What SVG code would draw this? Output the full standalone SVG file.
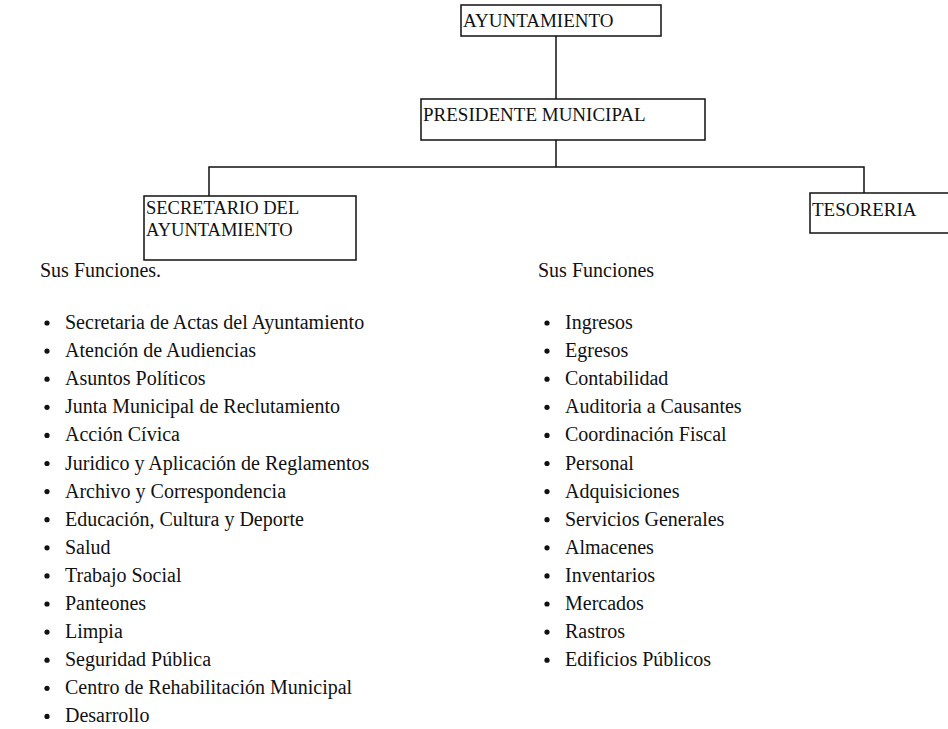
<svg xmlns="http://www.w3.org/2000/svg" width="948" height="729" viewBox="0 0 948 729">
<style>
.box{fill:#fff;stroke:#111;stroke-width:1.5}
.conn{fill:none;stroke:#111;stroke-width:1.5}
.bt{font-family:"Liberation Serif","Times New Roman",serif;font-size:19px;fill:#111}
.lt{font-family:"Liberation Serif","Times New Roman",serif;font-size:20px;fill:#111}
.bul{fill:#111}
</style>
<rect width="948" height="729" fill="#fff"/>
<g id="connectors">
<line class="conn" x1="556" y1="36" x2="556" y2="99"/>
<line class="conn" x1="556" y1="140" x2="556" y2="167"/>
<polyline class="conn" points="209,196 209,167 864,167 864,193"/>
</g>
<g id="ayuntamiento">
<rect class="box" x="461" y="5" width="200" height="31"/>
<text class="bt" x="463" y="27">AYUNTAMIENTO</text>
</g>
<g id="presidente">
<rect class="box" x="421" y="99" width="284" height="41"/>
<text class="bt" x="423" y="121">PRESIDENTE MUNICIPAL</text>
</g>
<g id="secretario">
<rect class="box" x="144" y="196" width="212" height="64"/>
<text class="bt" x="146" y="214" style="font-size:18.5px">SECRETARIO DEL</text>
<text class="bt" x="146" y="236" style="font-size:18.5px">AYUNTAMIENTO</text>
</g>
<g id="tesoreria">
<rect class="box" x="810" y="193" width="145" height="40"/>
<text class="bt" x="812" y="216">TESORERIA</text>
</g>
<g id="funciones-secretario">
<text class="lt" x="40" y="277">Sus Funciones.</text>
<g class="bul">
<circle cx="47" cy="323" r="2.6"/><circle cx="47" cy="351.1" r="2.6"/><circle cx="47" cy="379.2" r="2.6"/><circle cx="47" cy="407.3" r="2.6"/><circle cx="47" cy="435.4" r="2.6"/><circle cx="47" cy="463.5" r="2.6"/><circle cx="47" cy="491.6" r="2.6"/><circle cx="47" cy="519.7" r="2.6"/><circle cx="47" cy="547.8" r="2.6"/><circle cx="47" cy="575.9" r="2.6"/><circle cx="47" cy="604" r="2.6"/><circle cx="47" cy="632.1" r="2.6"/><circle cx="47" cy="660.2" r="2.6"/><circle cx="47" cy="688.3" r="2.6"/><circle cx="47" cy="716.4" r="2.6"/>
</g>
<text class="lt" x="65" y="329">Secretaria de Actas del Ayuntamiento</text>
<text class="lt" x="65" y="357.1">Atención de Audiencias</text>
<text class="lt" x="65" y="385.2">Asuntos Políticos</text>
<text class="lt" x="65" y="413.3">Junta Municipal de Reclutamiento</text>
<text class="lt" x="65" y="441.4">Acción Cívica</text>
<text class="lt" x="65" y="469.5">Juridico y Aplicación de Reglamentos</text>
<text class="lt" x="65" y="497.6">Archivo y Correspondencia</text>
<text class="lt" x="65" y="525.7">Educación, Cultura y Deporte</text>
<text class="lt" x="65" y="553.8">Salud</text>
<text class="lt" x="65" y="581.9">Trabajo Social</text>
<text class="lt" x="65" y="610">Panteones</text>
<text class="lt" x="65" y="638.1">Limpia</text>
<text class="lt" x="65" y="666.2">Seguridad Pública</text>
<text class="lt" x="65" y="694.3">Centro de Rehabilitación Municipal</text>
<text class="lt" x="65" y="722.4">Desarrollo</text>
</g>
<g id="funciones-tesoreria">
<text class="lt" x="538" y="277">Sus Funciones</text>
<g class="bul">
<circle cx="547" cy="323" r="2.6"/><circle cx="547" cy="351.1" r="2.6"/><circle cx="547" cy="379.2" r="2.6"/><circle cx="547" cy="407.3" r="2.6"/><circle cx="547" cy="435.4" r="2.6"/><circle cx="547" cy="463.5" r="2.6"/><circle cx="547" cy="491.6" r="2.6"/><circle cx="547" cy="519.7" r="2.6"/><circle cx="547" cy="547.8" r="2.6"/><circle cx="547" cy="575.9" r="2.6"/><circle cx="547" cy="604" r="2.6"/><circle cx="547" cy="632.1" r="2.6"/><circle cx="547" cy="660.2" r="2.6"/>
</g>
<text class="lt" x="565" y="329">Ingresos</text>
<text class="lt" x="565" y="357.1">Egresos</text>
<text class="lt" x="565" y="385.2">Contabilidad</text>
<text class="lt" x="565" y="413.3">Auditoria a Causantes</text>
<text class="lt" x="565" y="441.4">Coordinación Fiscal</text>
<text class="lt" x="565" y="469.5">Personal</text>
<text class="lt" x="565" y="497.6">Adquisiciones</text>
<text class="lt" x="565" y="525.7">Servicios Generales</text>
<text class="lt" x="565" y="553.8">Almacenes</text>
<text class="lt" x="565" y="581.9">Inventarios</text>
<text class="lt" x="565" y="610">Mercados</text>
<text class="lt" x="565" y="638.1">Rastros</text>
<text class="lt" x="565" y="666.2">Edificios Públicos</text>
</g>
</svg>
